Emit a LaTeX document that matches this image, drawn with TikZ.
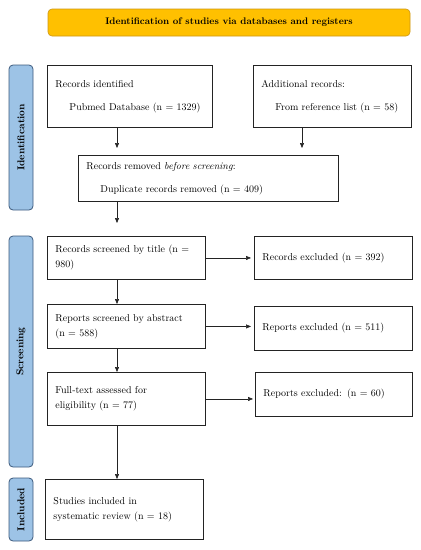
\documentclass[tikz,border=0pt]{standalone}
\usetikzlibrary{arrows.meta,positioning,calc}
\definecolor{ink}{RGB}{35,35,35}
\definecolor{bannerfill}{RGB}{255,192,0}
\definecolor{bannerline}{RGB}{205,150,20}
\definecolor{stagefill}{RGB}{157,195,230}
\definecolor{stageline}{RGB}{60,90,125}
\tikzset{
  box/.style={draw=ink,line width=0.9pt,anchor=north west,inner xsep=8pt,inner ysep=3pt,
    align=left,font=\fontsize{10}{15}\selectfont},
  stage/.style={draw=stageline,fill=stagefill,line width=0.8pt,rounded corners=4pt,rotate=90,
    minimum height=24pt,inner sep=0pt,font=\fontsize{10}{12}\selectfont\bfseries},
  banner/.style={draw=bannerline,fill=bannerfill,line width=0.6pt,rounded corners=4pt,
    minimum width=362pt,minimum height=27pt,font=\fontsize{9.6}{12}\selectfont\bfseries},
  arr/.style={-{Triangle[length=5pt,width=4pt]},draw=ink,line width=0.5pt},
}
\begin{document}
\begin{tikzpicture}[x=1pt,y=-1pt]
\useasboundingbox (0,0) rectangle (421,550);
% header
\node[banner] (head) at (229,22.5) {Identification of studies via databases and registers};
% stage bars
\node[stage,minimum width=145pt] (idbar) at (21,137.5) {Identification};
\node[stage,minimum width=231pt] (scbar) at (21,351.5) {Screening};
\node[stage,minimum width=63pt] (inbar) at (21,509.5) {Included};
% identification
\node[box,text width=149pt,minimum height=62pt] (ident) at (47,65)
  {Records identified\\[8pt]\hspace*{14pt}Pubmed Database (n = 1329)};
\node[box,text width=142pt,minimum height=62pt] (addl) at (253,65)
  {Additional records:\\[8pt]\hspace*{14pt}From reference list (n = 58)};
\node[box,text width=244pt,minimum height=46pt] (remov) at (78,155)
  {Records removed \textit{before screening}:\\[8pt]\hspace*{14pt}Duplicate records removed (n = 409)};
% screening
\node[box,text width=142pt,minimum height=43pt] (title) at (47,236)
  {Records screened by title (n =\\980)};
\node[box,text width=142pt,minimum height=43pt] (excl1) at (254,236)
  {Records excluded (n = 392)};
\node[box,text width=142pt,minimum height=44pt] (abstr) at (47,304)
  {Reports screened by abstract\\(n = 588)};
\node[box,text width=142pt,minimum height=44pt] (excl2) at (254,306)
  {Reports excluded (n = 511)};
\node[box,text width=142pt,minimum height=53pt] (fullt) at (47,372)
  {Full-text assessed for\\eligibility (n = 77)};
\node[box,text width=141pt,minimum height=44pt] (excl3) at (255,372)
  {Reports excluded: (n = 60)};
% included
\node[box,text width=142pt,minimum height=60pt] (incl) at (45,479)
  {Studies included in\\systematic review (n = 18)};
% connectors
\coordinate (spine) at (117,0);
\coordinate (side) at (302,0);
\draw[arr,shorten >=7pt] (ident.south -| spine) -- (remov.north -| spine);
\draw[arr,shorten >=7pt] (addl.south -| side) -- (remov.north -| side);
\draw[arr,shorten >=13pt] (remov.south -| spine) -- (title.north -| spine);
\draw[arr] (title.south -| spine) -- (abstr.north -| spine);
\draw[arr,shorten >=3pt] (title.east) -- (excl1.west |- title.east);
\draw[arr] (abstr.south -| spine) -- (fullt.north -| spine);
\draw[arr,shorten >=3pt] (abstr.east) -- (excl2.west |- abstr.east);
\draw[arr] (fullt.south -| spine) -- (incl.north -| spine);
\draw[arr,shorten >=2pt] (fullt.east) -- (excl3.west |- fullt.east);
\end{tikzpicture}
\end{document}
